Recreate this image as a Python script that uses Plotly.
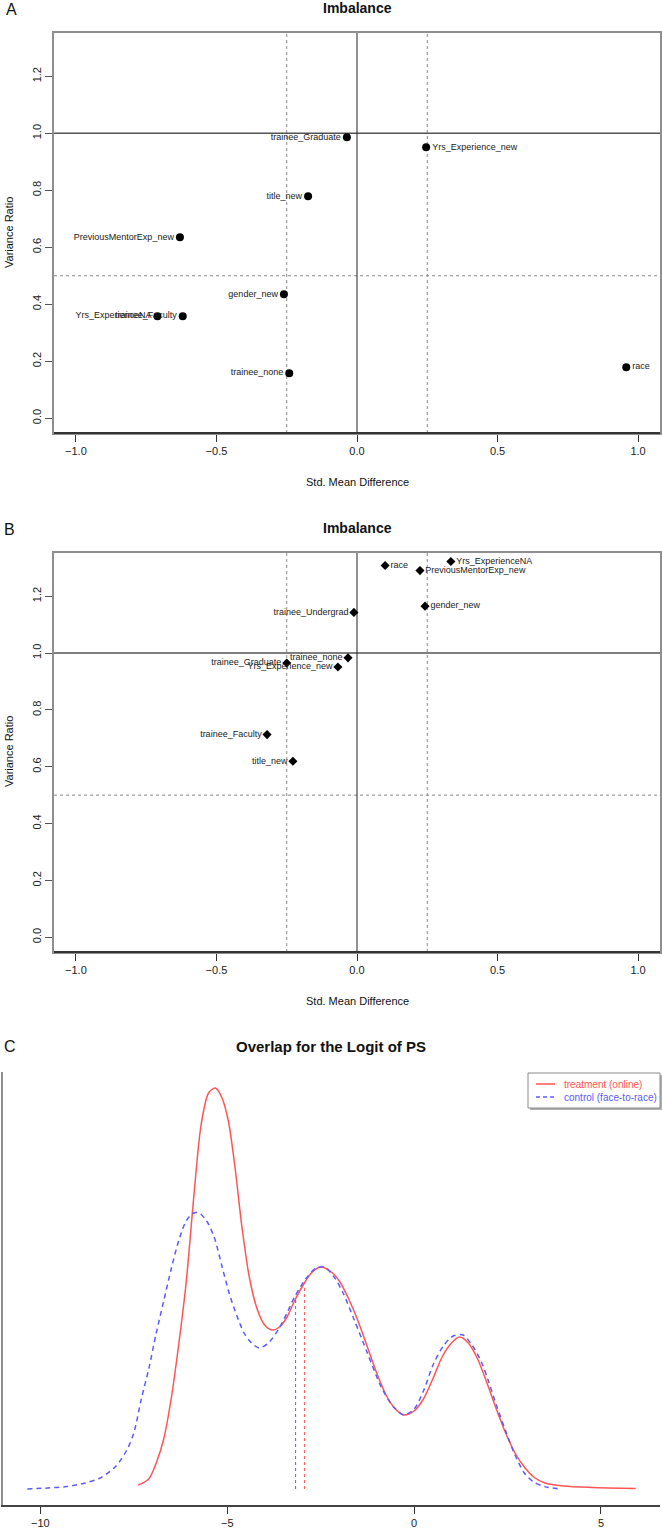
import plotly.graph_objects as go

W, H = 662, 1534

# ---------------- Data ----------------
# Panel A (before matching)
a_vars = ["trainee_Graduate", "Yrs_Experience_new", "title_new", "PreviousMentorExp_new",
          "gender_new", "trainee_Faculty", "Yrs_ExperienceNA", "trainee_none", "race"]
a_smd = [-0.036, 0.246, -0.174, -0.63, -0.26, -0.62, -0.71, -0.241, 0.958]
a_vr = [0.986, 0.951, 0.779, 0.635, 0.435, 0.358, 0.358, 0.158, 0.179]
a_right = ["Yrs_Experience_new", "race"]

# Panel B (after matching)
b_vars = ["race", "Yrs_ExperienceNA", "PreviousMentorExp_new", "gender_new", "trainee_Undergrad",
          "trainee_none", "Yrs_Experience_new", "trainee_Graduate", "trainee_Faculty", "title_new"]
b_smd = [0.10, 0.334, 0.224, 0.242, -0.011, -0.032, -0.068, -0.25, -0.32, -0.228]
b_vr = [1.308, 1.322, 1.290, 1.165, 1.143, 0.983, 0.951, 0.965, 0.713, 0.619]
b_right = ["race", "Yrs_ExperienceNA", "PreviousMentorExp_new", "gender_new"]

smd_ticks = [-1.0, -0.5, 0.0, 0.5, 1.0]
vr_ticks = [0.0, 0.2, 0.4, 0.6, 0.8, 1.0, 1.2]
smd_thresholds = [-0.25, 0.25]
vr_threshold = 0.5
vr_ref = 1.0
smd_ref = 0.0

# Panel C (densities of the logit of the propensity score)
trt_x = [-7.38, -7.1, -6.9, -6.7, -6.5, -6.3, -6.1, -5.9, -5.7, -5.5, -5.32, -5.15, -4.97, -4.8,
         -4.6, -4.4, -4.2, -4.0, -3.8, -3.6, -3.4, -3.2, -3.0, -2.75, -2.5, -2.25, -2.0, -1.75,
         -1.5, -1.25, -1.0, -0.75, -0.5, -0.27, 0.0, 0.25, 0.5, 0.75, 1.0, 1.22, 1.45, 1.7, 1.95,
         2.2, 2.45, 2.7, 2.95, 3.2, 3.5, 4.0, 4.76, 5.93]
trt_d = [0.002, 0.005, 0.013, 0.025, 0.045, 0.072, 0.103, 0.145, 0.182, 0.198, 0.2005, 0.196,
         0.184, 0.162, 0.13, 0.105, 0.09, 0.082, 0.0795, 0.081, 0.086, 0.094, 0.101, 0.108, 0.111,
         0.109, 0.104, 0.095, 0.084, 0.071, 0.058, 0.047, 0.04, 0.037, 0.039, 0.045, 0.055, 0.066,
         0.073, 0.076, 0.073, 0.065, 0.053, 0.04, 0.028, 0.018, 0.011, 0.006, 0.003, 0.0015,
         0.0008, 0.0003]
ctl_x = [-10.35, -9.8, -9.3, -8.8, -8.4, -8.0, -7.7, -7.5, -7.3, -7.1, -6.9, -6.7, -6.5, -6.3,
         -6.1, -5.9, -5.75, -5.55, -5.35, -5.15, -4.95, -4.75, -4.55, -4.35, -4.14, -3.9, -3.64,
         -3.4, -3.2, -2.9, -2.62, -2.4, -2.14, -1.9, -1.6, -1.25, -0.88, -0.55, -0.27, 0.0, 0.25,
         0.53, 0.8, 1.05, 1.31, 1.55, 1.8, 1.98, 2.2, 2.45, 2.7, 2.95, 3.2, 3.5, 3.9]
ctl_d = [0.0, 0.0005, 0.0012, 0.003, 0.0055, 0.011, 0.019, 0.028, 0.045, 0.06, 0.078, 0.094,
         0.11, 0.124, 0.134, 0.138, 0.138, 0.134, 0.126, 0.112, 0.098, 0.087, 0.078, 0.073,
         0.0705, 0.073, 0.0795, 0.088, 0.096, 0.105, 0.1105, 0.111, 0.106, 0.098, 0.0845, 0.068,
         0.051, 0.041, 0.037, 0.04, 0.049, 0.063, 0.072, 0.0765, 0.077, 0.072, 0.0635, 0.0545,
         0.042, 0.029, 0.017, 0.008, 0.0035, 0.0012, 0.0]
trt_mean = -2.93
trt_mean_d = 0.101
ctl_mean = -3.17
ctl_mean_d = 0.0945
c_ticks = [-10, -5, 0, 5]

# ---------------- Figure ----------------
def py(p):
    return 1 - p / H

def px(p):
    return p / W

FONT = "Liberation Sans, Arial, Helvetica, sans-serif"
RED = "#ff5555"
BLUE = "#5b5bff"

fig = go.Figure()

# Panel A points
fig.add_trace(go.Scatter(
    x=a_smd, y=a_vr, text=a_vars, mode="markers+text",
    textposition=["middle right" if v in a_right else "middle left" for v in a_vars],
    marker=dict(symbol="circle", size=8, color="black"),
    textfont=dict(size=9, color="#222", family=FONT),
    cliponaxis=False, showlegend=False, xaxis="x", yaxis="y"))

# Panel B points
fig.add_trace(go.Scatter(
    x=b_smd, y=b_vr, text=b_vars, mode="markers+text",
    textposition=["middle right" if v in b_right else "middle left" for v in b_vars],
    marker=dict(symbol="diamond", size=7, color="black"),
    textfont=dict(size=9, color="#222", family=FONT),
    cliponaxis=False, showlegend=False, xaxis="x2", yaxis="y2"))

# Panel C curves
fig.add_trace(go.Scatter(
    x=trt_x, y=trt_d, mode="lines", line=dict(color=RED, width=1.5, shape="spline", smoothing=0.8),
    showlegend=False, xaxis="x3", yaxis="y3"))
fig.add_trace(go.Scatter(
    x=ctl_x, y=ctl_d, mode="lines",
    line=dict(color=BLUE, width=1.5, dash="5px,4px", shape="spline", smoothing=0.8),
    showlegend=False, xaxis="x3", yaxis="y3"))
fig.add_trace(go.Scatter(
    x=[ctl_mean, ctl_mean], y=[0, ctl_mean_d], mode="lines",
    line=dict(color=BLUE, width=1, dash="dot"), showlegend=False, xaxis="x3", yaxis="y3"))
fig.add_trace(go.Scatter(
    x=[trt_mean, trt_mean], y=[0, trt_mean_d], mode="lines",
    line=dict(color=RED, width=1, dash="dot"), showlegend=False, xaxis="x3", yaxis="y3"))

shapes = []
for xa, ya in [("x", "y"), ("x2", "y2")]:
    for t in smd_thresholds:
        shapes.append(dict(type="line", xref=xa, yref=f"{ya} domain", x0=t, x1=t, y0=0, y1=1,
                           line=dict(color="#8a8a8a", width=1, dash="dot"), layer="below"))
    shapes.append(dict(type="line", xref=f"{xa} domain", yref=ya, x0=0, x1=1,
                       y0=vr_threshold, y1=vr_threshold,
                       line=dict(color="#8a8a8a", width=1, dash="dot"), layer="below"))
    shapes.append(dict(type="line", xref=f"{xa} domain", yref=ya, x0=0, x1=1, y0=vr_ref, y1=vr_ref,
                       line=dict(color="#555555", width=1.6), layer="below"))
    shapes.append(dict(type="line", xref=xa, yref=f"{ya} domain", x0=smd_ref, x1=smd_ref, y0=0, y1=1,
                       line=dict(color="#222222", width=1), layer="below"))
    shapes.append(dict(type="line", xref=f"{xa} domain", yref=f"{ya} domain", x0=0, x1=1, y0=0, y1=0,
                       line=dict(color="#333333", width=2)))

# Legend box for panel C
shapes.append(dict(type="rect", xref="paper", yref="paper", x0=px(530), x1=px(662), y0=py(1110), y1=py(1075),
                   line=dict(width=0), fillcolor="#b0b0b0"))
shapes.append(dict(type="rect", xref="paper", yref="paper", x0=px(528), x1=px(660), y0=py(1108), y1=py(1073),
                   line=dict(color="#8a8a8a", width=1), fillcolor="white"))
shapes.append(dict(type="line", xref="paper", yref="paper", x0=px(536), x1=px(555), y0=py(1084), y1=py(1084),
                   line=dict(color=RED, width=1.5)))
shapes.append(dict(type="line", xref="paper", yref="paper", x0=px(536), x1=px(555), y0=py(1097), y1=py(1097),
                   line=dict(color=BLUE, width=1.5, dash="4px,3px")))

annotations = []
def ann(text, x, y, size, bold=False, angle=0, color="#111", xanchor="center"):
    annotations.append(dict(text=f"<b>{text}</b>" if bold else text, x=px(x), y=py(y),
                            xref="paper", yref="paper", showarrow=False, xanchor=xanchor,
                            yanchor="middle", textangle=angle,
                            font=dict(size=size, color=color, family=FONT)))

ann("A", 11, 10, 16)
ann("Imbalance", 357, 8, 14, bold=True)
ann("Std. Mean Difference", 357, 482, 11)
ann("Variance Ratio", 9, 233, 11, angle=-90)
ann("B", 9, 530, 16)
ann("Imbalance", 357, 528, 14, bold=True)
ann("Std. Mean Difference", 357, 1001, 11)
ann("Variance Ratio", 9, 752, 11, angle=-90)
ann("C", 10, 1046, 16)
ann("Overlap for the Logit of PS", 331, 1046, 15, bold=True)
ann("treatment (online)", 562, 1084, 10, color=RED, xanchor="left")
ann("control (face-to-race)", 562, 1097, 10, color=BLUE, xanchor="left")

x_common = dict(range=[-1.078, 1.078], tickvals=smd_ticks, tickformat=".1f", ticks="outside",
                ticklen=7, tickcolor="#333", showgrid=False, zeroline=False, showline=True,
                linecolor="#8f8f8f", linewidth=2, mirror=True,
                tickfont=dict(size=11, color="#222", family=FONT))
y_common = dict(range=[-0.052, 1.352], tickvals=vr_ticks, tickformat=".1f", ticks="outside",
                ticklen=7, tickcolor="#555", showgrid=False, zeroline=False, showline=True,
                linecolor="#8f8f8f", linewidth=2, mirror=True, tickangle=-90,
                tickfont=dict(size=11, color="#222", family=FONT))

fig.update_layout(
    width=W, height=H, margin=dict(l=0, r=0, t=0, b=0),
    paper_bgcolor="white", plot_bgcolor="white", showlegend=False,
    xaxis=dict(domain=[px(54), px(660)], anchor="y", **x_common),
    yaxis=dict(domain=[py(433), py(33)], anchor="x", **y_common),
    xaxis2=dict(domain=[px(54), px(660)], anchor="y2", **x_common),
    yaxis2=dict(domain=[py(952), py(553)], anchor="x2", **y_common),
    xaxis3=dict(domain=[px(3), px(660)], anchor="y3", range=[-11.0, 6.58], tickvals=c_ticks,
                ticks="outside", ticklen=7, tickcolor="#333", showgrid=False, zeroline=False,
                showline=True, linecolor="#444", linewidth=1.5,
                tickfont=dict(size=11, color="#222", family=FONT)),
    yaxis3=dict(domain=[py(1505), py(1072)], anchor="x3", range=[-0.008, 0.2085], showticklabels=False,
                ticks="", showgrid=False, zeroline=False, showline=True, linecolor="#8f8f8f", linewidth=1.5),
    shapes=shapes, annotations=annotations,
)

fig.write_html("out.html", config={"displayModeBar": False},
               post_script="document.body.style.margin='0';document.body.style.overflow='hidden';")
